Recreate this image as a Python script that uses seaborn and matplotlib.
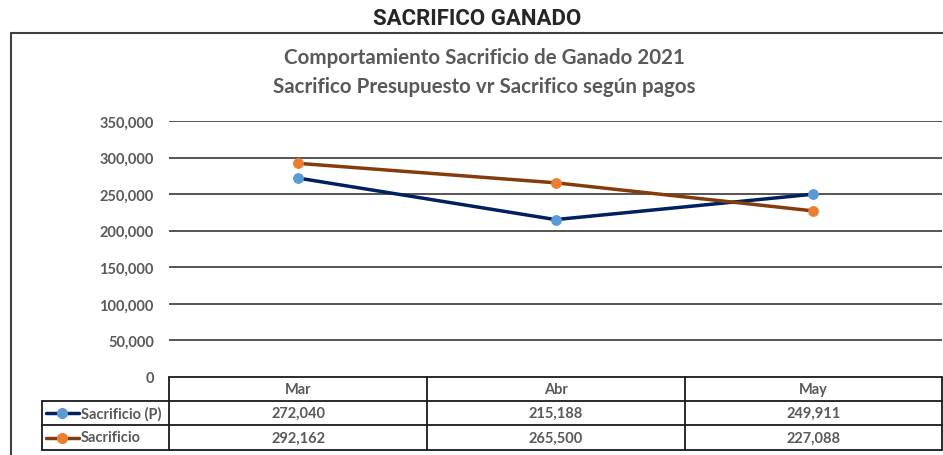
import numpy as np
import pandas as pd
import seaborn as sns
import matplotlib.pyplot as plt
from matplotlib.lines import Line2D
from matplotlib.ticker import FuncFormatter

# data
months = ["Mar", "Abr", "May"]
sacrificio_p = [272040, 215188, 249911]
sacrificio = [292162, 265500, 227088]
series_names = ["Sacrificio (P)", "Sacrificio"]
y_ticks = [0, 50000, 100000, 150000, 200000, 250000, 300000, 350000]

line_colors = ["#002060", "#843C0C"]
marker_colors = ["#5B9BD5", "#ED7D31"]
gray = "#595959"

sns.set_style("white")
plt.rcParams["font.family"] = ["Lato", "DejaVu Sans"]

W, H = 943, 456
fig = plt.figure(figsize=(W / 100, H / 100), dpi=100)

def fx(px):
    return px / W

def fy(py):
    return 1 - py / H

ax = fig.add_axes([fx(169), fy(378), fx(942) - fx(169), fy(122) - fy(378)])

df = pd.DataFrame({"mes": list(range(len(months))) * 2,
                   "valor": sacrificio_p + sacrificio,
                   "serie": [series_names[0]] * 3 + [series_names[1]] * 3})

for name, lc, mc in zip(series_names, line_colors, marker_colors):
    sns.lineplot(data=df[df["serie"] == name], x="mes", y="valor", ax=ax,
                 color=lc, linewidth=2.5, marker="o", markersize=7,
                 markerfacecolor=mc, markeredgecolor=mc, legend=False, zorder=3)

ax.set_xlim(-0.5, len(months) - 0.5)
ax.set_ylim(0, 350000)
ax.set_yticks(y_ticks)
ax.yaxis.set_major_formatter(FuncFormatter(lambda v, p: f"{int(v):,}"))
ax.tick_params(axis="y", labelsize=10.5, labelcolor=gray, length=0, pad=11)
ax.set_xticks([])
ax.set_xlabel("")
ax.set_ylabel("")
for s in ax.spines.values():
    s.set_visible(False)
for t in y_ticks[1:]:
    ax.axhline(t, color="#262626", linewidth=1.1, zorder=1)
for lbl in ax.get_yticklabels():
    lbl.set_fontweight("bold")

# titles
fig.text(fx(477), fy(19), "SACRIFICO GANADO", ha="center", va="center",
         fontsize=16, fontweight="bold", family=["Roboto", "DejaVu Sans"])
fig.text(fx(484), fy(58), "Comportamiento Sacrificio de Ganado 2021", ha="center",
         va="center", fontsize=14.8, fontweight="bold", color=gray)
fig.text(fx(484), fy(87), "Sacrifico Presupuesto vr Sacrifico según pagos", ha="center",
         va="center", fontsize=14.8, fontweight="bold", color=gray)

# outer frame
frame_kw = dict(color="#404040", linewidth=1.5, transform=fig.transFigure)
fig.add_artist(Line2D([fx(11), 1], [fy(34), fy(34)], **frame_kw))
fig.add_artist(Line2D([fx(11), fx(11)], [fy(34), 0], **frame_kw))

# data table
tk = dict(color="#1a1a1a", linewidth=1.3, transform=fig.transFigure)
cols = [169, 427, 685, 942]
rows = [378, 402, 426, 451]
fig.add_artist(Line2D([fx(169), fx(942)], [fy(378), fy(378)], **tk))
for r in rows[1:]:
    fig.add_artist(Line2D([fx(42), fx(942)], [fy(r), fy(r)], **tk))
for c in cols:
    fig.add_artist(Line2D([fx(c), fx(c)], [fy(378), fy(451)], **tk))
fig.add_artist(Line2D([fx(42), fx(42)], [fy(402), fy(451)], **tk))

txt = dict(ha="center", va="center", fontsize=10.5, fontweight="bold", color=gray)
for i, m in enumerate(months):
    cx = (cols[i] + cols[i + 1]) / 2
    fig.text(fx(cx), fy(390), m, **txt)
    fig.text(fx(cx), fy(414), f"{sacrificio_p[i]:,}", **txt)
    fig.text(fx(cx), fy(438.5), f"{sacrificio[i]:,}", **txt)

for name, lc, mc, ry in zip(series_names, line_colors, marker_colors, [414, 438.5]):
    fig.add_artist(Line2D([fx(46), fx(79)], [fy(ry), fy(ry)], color=lc, linewidth=2.5,
                          transform=fig.transFigure))
    fig.add_artist(Line2D([fx(62)], [fy(ry)], marker="o", markersize=7, color=mc,
                          transform=fig.transFigure))
    fig.text(fx(81), fy(ry), name, ha="left", va="center", fontsize=10.5,
             fontweight="bold", color=gray)

fig.savefig("out.png", dpi=100)
